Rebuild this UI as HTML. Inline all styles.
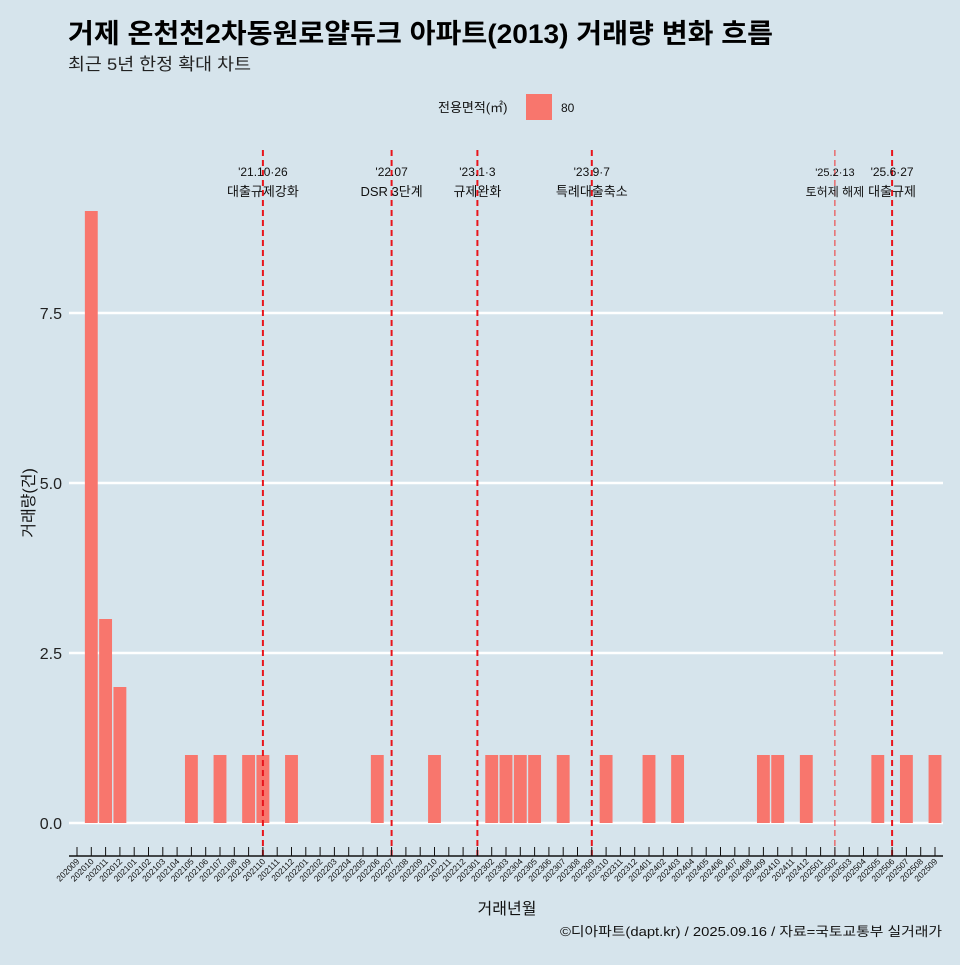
<!DOCTYPE html>
<html><head><meta charset="utf-8"><style>
body{margin:0;background:#d6e4ec;}
svg text{font-family:"Liberation Sans","Noto Sans CJK KR",sans-serif;}
</style></head><body>
<svg id="chart" width="960" height="960" viewBox="0 0 960 960">
<rect width="960" height="960" fill="#d6e4ec"/>
<text x="68" y="43" font-size="27" font-weight="bold" fill="#000" textLength="705" lengthAdjust="spacingAndGlyphs">거제 온천천2차동원로얄듀크 아파트(2013) 거래량 변화 흐름</text>
<text x="68" y="70" font-size="17" fill="#222" textLength="183" lengthAdjust="spacingAndGlyphs">최근 5년 한정 확대 차트</text>
<g>
<text x="438" y="112" font-size="13" fill="#111">전용면적(㎡)</text>
<rect x="526" y="94" width="26" height="26" fill="#f8766d"/>
<text x="561" y="112" font-size="12" fill="#111">80</text>
</g>
<g id="grid"></g><g id="bars"></g><g id="events"></g><g id="axes"></g>
<text x="507" y="914" font-size="16" text-anchor="middle" fill="#111">거래년월</text>
<text transform="translate(34,503) rotate(-90)" font-size="16" text-anchor="middle" fill="#111">거래량(건)</text>
<text x="560" y="936" font-size="13" fill="#111" textLength="382" lengthAdjust="spacingAndGlyphs">©디아파트(dapt.kr) / 2025.09.16 / 자료=국토교통부 실거래가</text>
</svg>
<script>
const categories=[];
for(let y=2020;y<=2025;y++)for(let m=1;m<=12;m++){const k=y*100+m;if(k>=202009&&k<=202509)categories.push(String(k));}
const barMonths=["202010","202011","202012","202105","202107","202109","202110","202112","202206","202210","202302","202303","202304","202305","202307","202310","202401","202403","202409","202410","202412","202505","202507","202509"];
const barValues=[9,3,2,1,1,1,1,1,1,1,1,1,1,1,1,1,1,1,1,1,1,1,1,1];
const yTicks=[0,2.5,5,7.5];
const yTickLabels=["0.0","2.5","5.0","7.5"];
const eventMonths=["202110","202207","202301","202309","202502","202506"];
const eventLine1=["'21.10·26","'22.07","'23.1·3","'23.9·7","'25.2·13","'25.6·27"];
const eventLine2=["대출규제강화","DSR 3단계","규제완화","특례대출축소","토허제 해제","대출규제"];
const eventThin=[false,false,false,false,true,false];

const NS="http://www.w3.org/2000/svg";
const x0=77,step=14.3,y0=823,unit=68,left=69,right=943;
const X=c=>x0+categories.indexOf(c)*step;
const Y=v=>y0-v*unit;
function mk(t,a,p){const e=document.createElementNS(NS,t);for(const k in a)e.setAttribute(k,a[k]);p.appendChild(e);return e;}
const grid=document.getElementById('grid'),bars=document.getElementById('bars'),ev=document.getElementById('events'),ax=document.getElementById('axes');
yTicks.forEach((v,i)=>{
 const l=mk('line',{x1:left,x2:right,y1:Y(v),y2:Y(v),stroke:'#fff','stroke-width':2.5},grid);
 
 
 const t=mk('text',{x:62,y:Y(v)+6,'font-size':16,'text-anchor':'end',fill:'#222'},ax);
 t.textContent=yTickLabels[i];
 
 
});
barMonths.forEach((c,i)=>{
 const w=step*0.9;
 const r=mk('rect',{x:X(c)-w/2,y:Y(barValues[i]),width:w,height:barValues[i]*unit,fill:'#f8766d'},bars);
 
 
});
eventMonths.forEach((c,i)=>{
 const x=X(c);
 const l=mk('line',{x1:x,x2:x,y1:150,y2:856,stroke:eventThin[i]?'#f03030':'#e8141c','stroke-width':eventThin[i]?1:2,'stroke-dasharray':'6,4'},ev);
 
 
 const fs=eventThin[i]?11:12;
 const t1=mk('text',{x:x,y:176,'font-size':fs,'text-anchor':'middle',fill:'#111'},ev);
 t1.textContent=eventLine1[i];
 
 
 const t2=mk('text',{x:x,y:196,'font-size':fs+1,'text-anchor':'middle',fill:'#111'},ev);
 t2.textContent=eventLine2[i];
 
 
});
const xl=mk('line',{x1:left,x2:right,y1:856,y2:856,stroke:'#111','stroke-width':1.5},ax);


categories.forEach(c=>{
 const x=X(c);
 const tk=mk('line',{x1:x,x2:x,y1:847,y2:856,stroke:'#111','stroke-width':1},ax);
 
 
 const t=mk('text',{x:x+3,y:862,'font-size':8.5,'text-anchor':'end',fill:'#111',transform:`rotate(-45 ${x+3} 862)`},ax);
 t.textContent=c;
 
 
});
</script>
</body></html>
